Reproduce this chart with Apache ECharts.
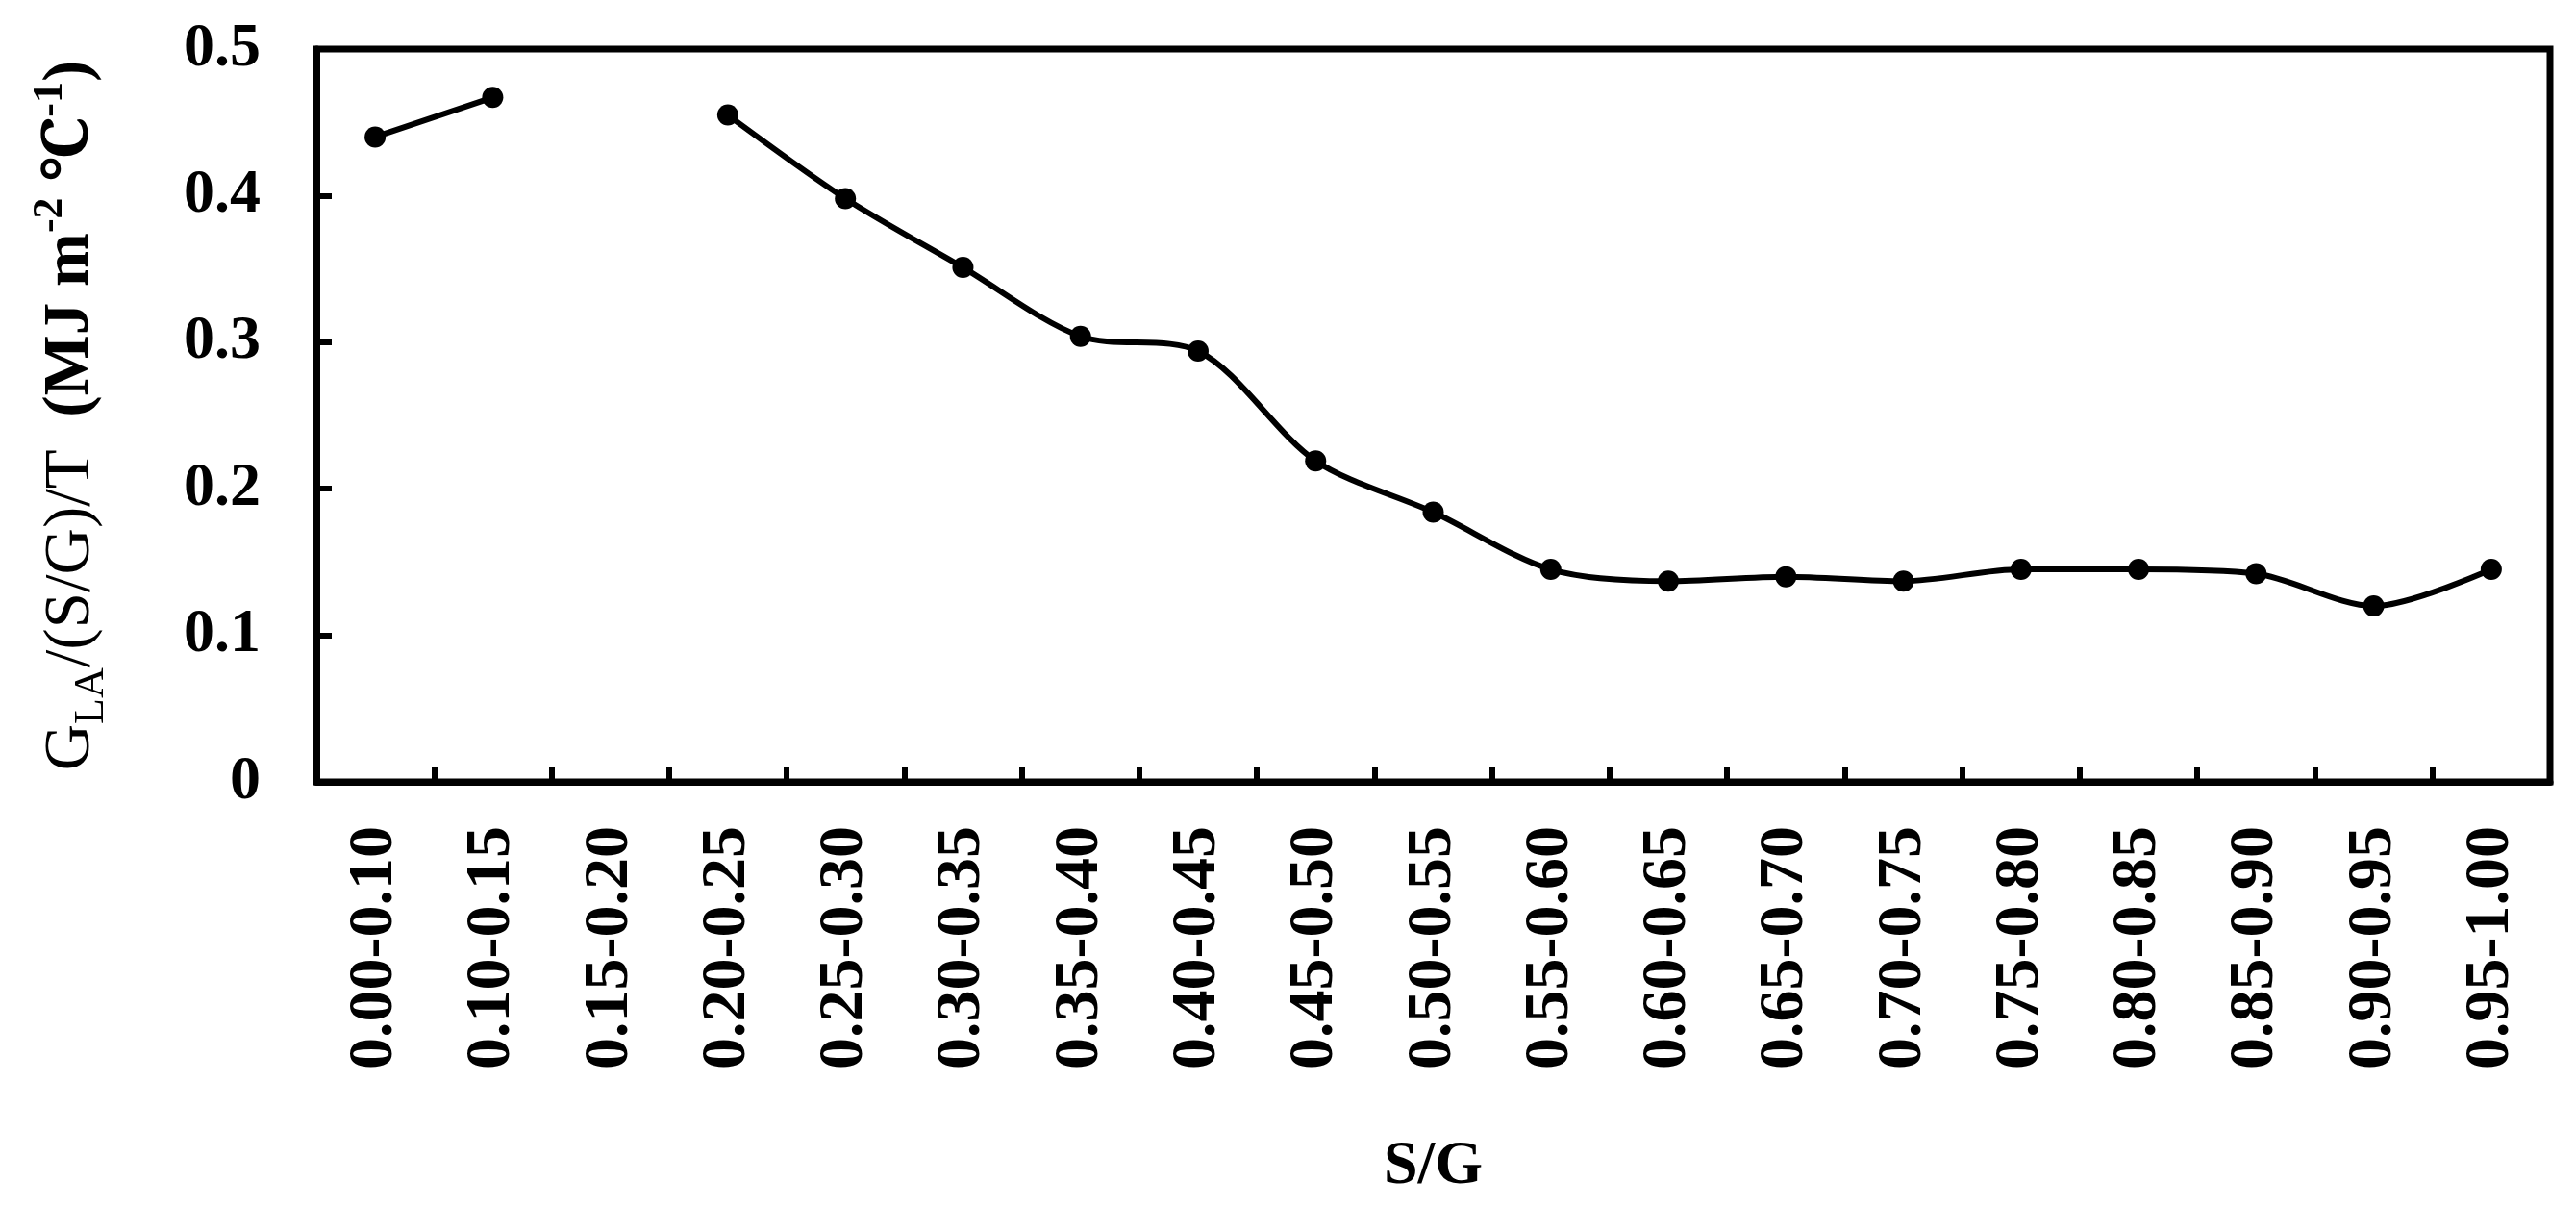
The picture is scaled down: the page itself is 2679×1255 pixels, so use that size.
<!DOCTYPE html>
<html>
<head>
<meta charset="utf-8">
<script src="https://cdn.jsdelivr.net/npm/echarts@6/dist/echarts.min.js"></script>
<style>
  html, body { margin: 0; padding: 0; background: #fff; }
  #chart { width: 2679px; height: 1255px; }
</style>
</head>
<body>
<div id="chart"></div>
<script>
const categories = ['0.00-0.10','0.10-0.15','0.15-0.20','0.20-0.25','0.25-0.30','0.30-0.35','0.35-0.40','0.40-0.45','0.45-0.50','0.50-0.55','0.55-0.60','0.60-0.65','0.65-0.70','0.70-0.75','0.75-0.80','0.80-0.85','0.85-0.90','0.90-0.95','0.95-1.00'];
const values = [0.440, 0.467, null, 0.455, 0.398, 0.351, 0.304, 0.294, 0.219, 0.184, 0.145, 0.137, 0.140, 0.137, 0.145, 0.145, 0.142, 0.120, 0.145];
const yMin = 0, yMax = 0.5, yStep = 0.1;
const xTitle = 'S/G';

const serif = '"Liberation Serif", "Times New Roman", "Noto Serif", serif';
const chart = echarts.init(document.getElementById('chart'), null, { renderer: 'canvas' });

chart.setOption({
  backgroundColor: '#ffffff',
  animation: false,
  grid: {
    left: 329, right: 27, top: 51, bottom: 442,
    show: true, borderColor: '#000', borderWidth: 7, backgroundColor: 'transparent'
  },
  xAxis: {
    type: 'category',
    data: categories,
    boundaryGap: true,
    axisLine: { show: true, lineStyle: { color: '#000', width: 7 } },
    axisTick: { show: true, inside: true, length: 16, lineStyle: { color: '#000', width: 6 } },
    axisLabel: {
      rotate: 90, margin: 46, interval: 0,
      fontFamily: serif, fontWeight: 'bold', fontSize: 66, color: '#000'
    },
    splitLine: { show: false },
    name: xTitle,
    nameLocation: 'middle',
    nameGap: 368,
    nameTextStyle: { fontFamily: serif, fontWeight: 'bold', fontSize: 64, color: '#000' }
  },
  yAxis: {
    type: 'value',
    min: yMin, max: yMax, interval: yStep,
    axisLine: { show: true, lineStyle: { color: '#000', width: 7 } },
    axisTick: { show: true, inside: true, length: 16, lineStyle: { color: '#000', width: 6 } },
    axisLabel: {
      margin: 58,
      fontFamily: serif, fontWeight: 'bold', fontSize: 64, color: '#000'
    },
    splitLine: { show: false },
    name: '{n|G}{sub|LA}{n|/(S/G)/T  }{b|(MJ m}{sup|-2}{b| ℃}{sup|-1}{b|)}',
    nameLocation: 'middle',
    nameRotate: 90,
    nameGap: 212,
    nameTextStyle: {
      color: '#000',
      rich: {
        n:   { fontFamily: serif, fontSize: 67, lineHeight: 86, color: '#000', verticalAlign: 'middle' },
        b:   { fontFamily: serif, fontSize: 67, fontWeight: 'bold', lineHeight: 86, color: '#000', verticalAlign: 'middle' },
        sub: { fontFamily: serif, fontSize: 44, lineHeight: 44, color: '#000', verticalAlign: 'bottom' },
        sup: { fontFamily: serif, fontSize: 44, fontWeight: 'bold', lineHeight: 44, color: '#000', verticalAlign: 'top' }
      }
    }
  },
  series: [{
    type: 'line',
    data: values,
    connectNulls: false,
    smooth: 0.3,
    symbol: 'circle',
    symbolSize: 22,
    lineStyle: { color: '#000', width: 6 },
    itemStyle: { color: '#000', borderColor: '#000', borderWidth: 0 }
  }]
});
</script>
</body>
</html>
